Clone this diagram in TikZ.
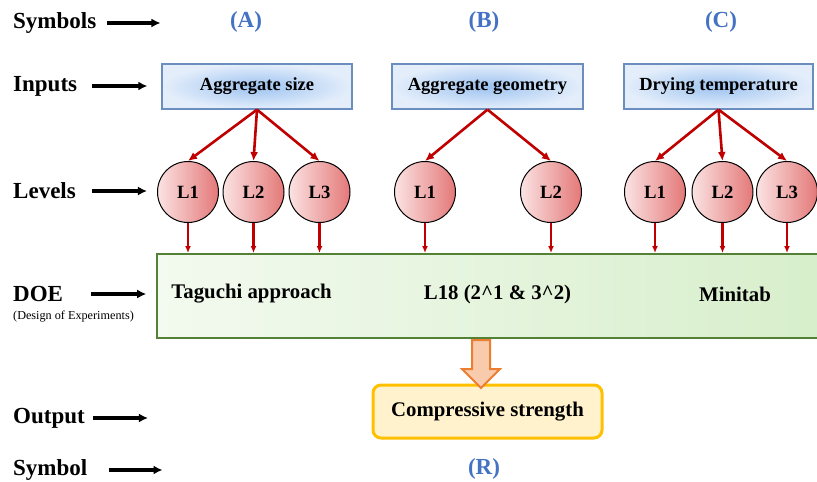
\documentclass[tikz,border=0pt]{standalone}
\usepackage{fontspec}
\setmainfont{Liberation Serif}
\usepackage{xcolor}
\usepackage{tikz}
\usetikzlibrary{arrows.meta,positioning,shapes.arrows,calc}

\definecolor{symblue}{HTML}{4472C4}
\definecolor{inedge}{HTML}{6C8EBF}
\definecolor{inmid}{HTML}{9CC2F0}
\definecolor{inside}{HTML}{E4EEFB}
\definecolor{lvlleft}{HTML}{FBE3E3}
\definecolor{lvlright}{HTML}{E47878}
\definecolor{linkred}{HTML}{C00000}
\definecolor{doeedge}{HTML}{538135}
\definecolor{doeleft}{HTML}{F3FAEF}
\definecolor{doeright}{HTML}{D6EECA}
\definecolor{outedge}{HTML}{FFC000}
\definecolor{outfill}{HTML}{FFF2CC}
\definecolor{flowedge}{HTML}{ED7D31}
\definecolor{flowfill}{HTML}{F8CBAD}

\begin{document}
\begin{tikzpicture}[
  x=1pt, y=-1pt,
  rowlab/.style={anchor=west, inner sep=0pt, font=\fontsize{23}{26}\selectfont\bfseries},
  symlab/.style={inner sep=0pt, text=symblue, font=\fontsize{23}{26}\selectfont\bfseries},
  inbox/.style={draw=inedge, line width=1.2pt, inner color=inmid, outer color=inside, minimum width=190pt, minimum height=45pt, font=\fontsize{18.5}{22}\selectfont\bfseries},
  lvl/.style={circle, draw=black, line width=1pt, left color=lvlleft, right color=lvlright, minimum size=61pt, inner sep=0pt, font=\fontsize{18.7}{22}\selectfont\bfseries},
  doebox/.style={draw=doeedge, line width=2pt, left color=doeleft, right color=doeright, minimum width=690pt, minimum height=84pt, anchor=north west},
  doetext/.style={inner sep=0pt, font=\fontsize{20.8}{24}\selectfont\bfseries},
  outbox/.style={draw=outedge, line width=3pt, fill=outfill, rounded corners=8pt, minimum width=229pt, minimum height=53pt, font=\fontsize{20.8}{24}\selectfont\bfseries},
  flow/.style={single arrow, draw=flowedge, fill=flowfill, line width=2pt, minimum height=48pt, inner sep=8pt, single arrow head extend=10pt, rotate=-90, anchor=tail},
  rowarrow/.style={-{Latex[length=9pt,width=9pt]}, line width=3.4pt},
  split/.style={-{Latex[length=9pt,width=8pt]}, line width=2.6pt, draw=linkred},
  feed/.style={-{Latex[length=7pt,width=6pt]}, line width=2.2pt, draw=linkred}
]
\useasboundingbox (0,0) rectangle (817,482);

% row labels
\node[rowlab] (symrow) at (13,23) {Symbols};
\node[rowlab] (inrow) at (13,86) {Inputs};
\node[rowlab] (lvlrow) at (13,191) {Levels};
\node[rowlab] (doerow) at (13,294) {DOE};
\node[anchor=west, inner sep=0pt, font=\fontsize{12.2}{14}\selectfont] (doenote) at (13,317) {(Design of Experiments)};
\node[rowlab] (outrow) at (13,418) {Output};
\node[rowlab] (rrow) at (13,470) {Symbol};

\draw[rowarrow] ([xshift=11pt]symrow.east) -- ([xshift=64pt]symrow.east);
\draw[rowarrow] ([xshift=15pt]inrow.east) -- ([xshift=70pt]inrow.east);
\draw[rowarrow] ([xshift=16pt]lvlrow.east) -- ([xshift=71pt]lvlrow.east);
\draw[rowarrow] ([xshift=28pt]doerow.east) -- ([xshift=83pt]doerow.east);
\draw[rowarrow] ([xshift=8pt]outrow.east) -- ([xshift=63pt]outrow.east);
\draw[rowarrow] ([xshift=21pt]rrow.east) -- ([xshift=75pt]rrow.east);

% symbols
\node[symlab] (syma) at (246,22) {(A)};
\node[symlab] (symb) at (484,22) {(B)};
\node[symlab] (symc) at (721,22) {(C)};
\node[symlab] (symr) at (484,469) {(R)};

% inputs
\node[inbox] (ina) at (257,86.5) {Aggregate size};
\node[inbox, minimum width=191pt] (inb) at (487.5,86.5) {Aggregate geometry};
\node[inbox, minimum width=189pt] (inc) at (718.5,86.5) {Drying temperature};

% levels
\node[lvl] (a1) at (188,192) {L1};
\node[lvl] (a2) at (253.5,192) {L2};
\node[lvl] (a3) at (319.5,192) {L3};
\node[lvl] (b1) at (425,192) {L1};
\node[lvl] (b2) at (551,192) {L2};
\node[lvl] (c1) at (655,192) {L1};
\node[lvl] (c2) at (722.5,192) {L2};
\node[lvl] (c3) at (787,192) {L3};

\foreach \l in {a1,a2,a3} \draw[split] (ina.south) -- (\l.north);
\foreach \l in {b1,b2} \draw[split] (inb.south) -- (\l.north);
\foreach \l in {c1,c2,c3} \draw[split] (inc.south) -- (\l.north);

% design of experiments
\node[doebox] (doe) at (156,253) {};
\node[doetext] (taguchi) at (251.5,294) {Taguchi approach};
\node[doetext] (array) at (497.5,294) {L18 (2\^{}1 \& 3\^{}2)};
\node[doetext] (minitab) at (735,294) {Minitab};

\foreach \l in {a1,a2,a3,b1,b2,c1,c2,c3} \draw[feed] (\l.south) -- (\l.south |- doe.north);

% output
\node[outbox] (out) at (487.5,411.5) {Compressive strength};
\node[flow] (flow) at ($(out.north |- doe.south)+(-6.5,0)$) {};
\end{tikzpicture}
\end{document}
